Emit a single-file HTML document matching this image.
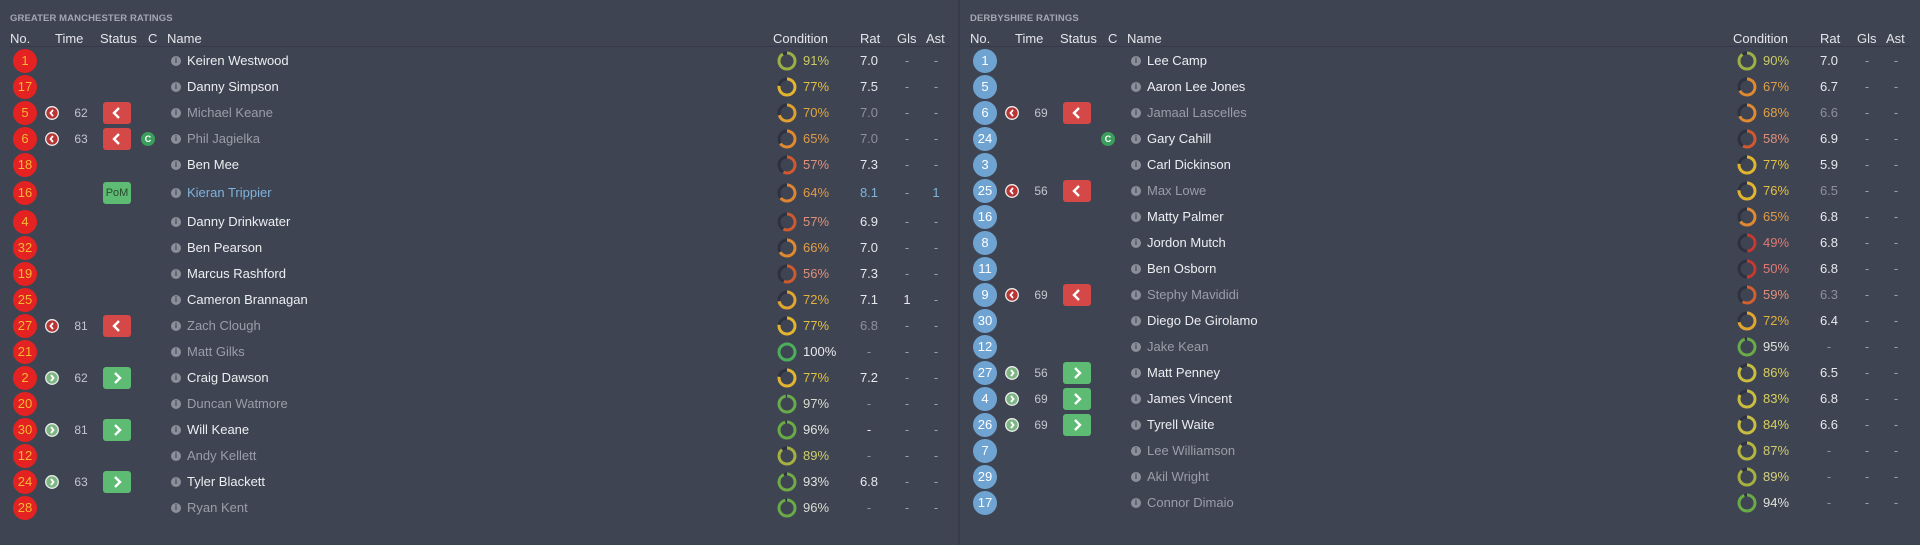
<!DOCTYPE html>
<html><head><meta charset="utf-8"><style>
*{margin:0;padding:0;box-sizing:border-box}
body{width:1920px;height:545px;background:#3f4453;font-family:"Liberation Sans",sans-serif;overflow:hidden;position:relative}
.pn{position:absolute;top:0;width:958px;height:545px}
.div{position:absolute;left:958px;top:0;width:2px;height:545px;background:#383c4a}
.ttl{position:absolute;left:10px;top:13px;font-size:9.5px;font-weight:bold;color:#a3a7b2;letter-spacing:.1px}
.h{position:absolute;top:31px;font-size:13px;color:#e4e6ea}
.hl{position:absolute;left:10px;top:46px;width:940px;height:1px;background:#363a48}
.r{position:absolute;left:0;width:958px;height:26px;font-size:13px;line-height:26px}
.r>*{position:absolute}
.n{left:13px;top:1px;width:24px;height:24px;border-radius:50%;background:#e42222;color:#f6b733;text-align:center;line-height:24px;font-size:13px}
.R .n{background:#6fa4d2;color:#fff}
.ti{left:45px;top:6px}
.tt{left:70px;width:22px;text-align:center;color:#c3c6cd;font-size:12px}
.st{left:103px;top:2px;width:28px;height:22px;border-radius:3px}
.rd{background:#d44848}.gr{background:#5dbb74}
.pom{color:#2a4a30;font-size:11px;text-align:center;line-height:22px}
.c{left:141px;top:6px;width:14px;height:14px;border-radius:50%;background:#3b9f5c;color:#fff;font-size:9px;font-weight:bold;text-align:center;line-height:14px}
.i{left:171px;top:8px;width:10px;height:10px;border-radius:50%;background:#8b8f99;color:#3f4453;font-size:8px;font-weight:bold;text-align:center;line-height:10px}
.nm{left:187px;color:#eceef1}
.d .nm{color:#9a9ea8}
.nm.bl{color:#7fb3db}
.ring{left:776px;top:2px}
.p{left:803px}
.rt{left:855px;width:28px;text-align:center;color:#e8e9ec}
.d .rt{color:#8d919b}
.g{left:897px;width:20px;text-align:center;color:#9a9ea8}
.a{left:926px;width:20px;text-align:center;color:#9a9ea8}
.w{color:#e8e9ec!important}
</style></head><body>
<div class="div"></div>

<div class="pn" style="left:0">
<div class="ttl">GREATER MANCHESTER RATINGS</div>
<div class="h" style="left:10px">No.</div><div class="h" style="left:55px">Time</div><div class="h" style="left:100px">Status</div><div class="h" style="left:148px">C</div><div class="h" style="left:167px">Name</div>
<div class="h" style="left:773px">Condition</div><div class="h" style="left:860px">Rat</div><div class="h" style="left:897px">Gls</div><div class="h" style="left:926px">Ast</div>
<div class="hl"></div>

<div class="r" style="top:48px"><span class="n">1</span><span class="i">i</span><span class="nm">Keiren Westwood</span><svg class="ring" width="22" height="22"><circle cx="11" cy="11" r="8" fill="none" stroke="#2e323e" stroke-width="3"/><circle cx="11" cy="11" r="8" fill="none" stroke="#9bb043" stroke-width="3" stroke-dasharray="45.7 60" transform="rotate(-90 11 11)"/></svg><span class="p" style="color:#cbcb62">91%</span><span class="rt">7.0</span><span class="g">-</span><span class="a">-</span></div>
<div class="r" style="top:74px"><span class="n">17</span><span class="i">i</span><span class="nm">Danny Simpson</span><svg class="ring" width="22" height="22"><circle cx="11" cy="11" r="8" fill="none" stroke="#2e323e" stroke-width="3"/><circle cx="11" cy="11" r="8" fill="none" stroke="#e2b530" stroke-width="3" stroke-dasharray="38.7 60" transform="rotate(-90 11 11)"/></svg><span class="p" style="color:#e2c040">77%</span><span class="rt">7.5</span><span class="g">-</span><span class="a">-</span></div>
<div class="r d" style="top:100px"><span class="n">5</span><svg class="ti" width="14" height="14"><circle cx="7" cy="7" r="6.3" fill="#b83535" stroke="#eee" stroke-width="1.3"/><polyline points="8,4 5.5,7 8,10" fill="none" stroke="#fff" stroke-width="1.8"/></svg><span class="tt">62</span><svg class="st rd" width="28" height="22"><polyline points="16,6 11,11 16,16" fill="none" stroke="#fff" stroke-width="2.4"/></svg><span class="i">i</span><span class="nm">Michael Keane</span><svg class="ring" width="22" height="22"><circle cx="11" cy="11" r="8" fill="none" stroke="#2e323e" stroke-width="3"/><circle cx="11" cy="11" r="8" fill="none" stroke="#e0a030" stroke-width="3" stroke-dasharray="35.2 60" transform="rotate(-90 11 11)"/></svg><span class="p" style="color:#e0a838">70%</span><span class="rt">7.0</span><span class="g">-</span><span class="a">-</span></div>
<div class="r d" style="top:126px"><span class="n">6</span><svg class="ti" width="14" height="14"><circle cx="7" cy="7" r="6.3" fill="#b83535" stroke="#eee" stroke-width="1.3"/><polyline points="8,4 5.5,7 8,10" fill="none" stroke="#fff" stroke-width="1.8"/></svg><span class="tt">63</span><svg class="st rd" width="28" height="22"><polyline points="16,6 11,11 16,16" fill="none" stroke="#fff" stroke-width="2.4"/></svg><span class="c">C</span><span class="i">i</span><span class="nm">Phil Jagielka</span><svg class="ring" width="22" height="22"><circle cx="11" cy="11" r="8" fill="none" stroke="#2e323e" stroke-width="3"/><circle cx="11" cy="11" r="8" fill="none" stroke="#df8a30" stroke-width="3" stroke-dasharray="32.7 60" transform="rotate(-90 11 11)"/></svg><span class="p" style="color:#e09a48">65%</span><span class="rt">7.0</span><span class="g">-</span><span class="a">-</span></div>
<div class="r" style="top:152px"><span class="n">18</span><span class="i">i</span><span class="nm">Ben Mee</span><svg class="ring" width="22" height="22"><circle cx="11" cy="11" r="8" fill="none" stroke="#2e323e" stroke-width="3"/><circle cx="11" cy="11" r="8" fill="none" stroke="#d05a30" stroke-width="3" stroke-dasharray="28.7 60" transform="rotate(-90 11 11)"/></svg><span class="p" style="color:#e0907a">57%</span><span class="rt">7.3</span><span class="g">-</span><span class="a">-</span></div>
<div class="r" style="top:180px"><span class="n">16</span><span class="st gr pom">PoM</span><span class="i">i</span><span class="nm bl">Kieran Trippier</span><svg class="ring" width="22" height="22"><circle cx="11" cy="11" r="8" fill="none" stroke="#2e323e" stroke-width="3"/><circle cx="11" cy="11" r="8" fill="none" stroke="#df8530" stroke-width="3" stroke-dasharray="32.2 60" transform="rotate(-90 11 11)"/></svg><span class="p" style="color:#e09a48">64%</span><span class="rt" style="color:#7fb3db">8.1</span><span class="g">-</span><span class="a" style="color:#7fb3db">1</span></div>
<div class="r" style="top:209px"><span class="n">4</span><span class="i">i</span><span class="nm">Danny Drinkwater</span><svg class="ring" width="22" height="22"><circle cx="11" cy="11" r="8" fill="none" stroke="#2e323e" stroke-width="3"/><circle cx="11" cy="11" r="8" fill="none" stroke="#d05a30" stroke-width="3" stroke-dasharray="28.7 60" transform="rotate(-90 11 11)"/></svg><span class="p" style="color:#e0907a">57%</span><span class="rt">6.9</span><span class="g">-</span><span class="a">-</span></div>
<div class="r" style="top:235px"><span class="n">32</span><span class="i">i</span><span class="nm">Ben Pearson</span><svg class="ring" width="22" height="22"><circle cx="11" cy="11" r="8" fill="none" stroke="#2e323e" stroke-width="3"/><circle cx="11" cy="11" r="8" fill="none" stroke="#df8a30" stroke-width="3" stroke-dasharray="33.2 60" transform="rotate(-90 11 11)"/></svg><span class="p" style="color:#e0a048">66%</span><span class="rt">7.0</span><span class="g">-</span><span class="a">-</span></div>
<div class="r" style="top:261px"><span class="n">19</span><span class="i">i</span><span class="nm">Marcus Rashford</span><svg class="ring" width="22" height="22"><circle cx="11" cy="11" r="8" fill="none" stroke="#2e323e" stroke-width="3"/><circle cx="11" cy="11" r="8" fill="none" stroke="#d05a30" stroke-width="3" stroke-dasharray="28.2 60" transform="rotate(-90 11 11)"/></svg><span class="p" style="color:#e0907a">56%</span><span class="rt">7.3</span><span class="g">-</span><span class="a">-</span></div>
<div class="r" style="top:287px"><span class="n">25</span><span class="i">i</span><span class="nm">Cameron Brannagan</span><svg class="ring" width="22" height="22"><circle cx="11" cy="11" r="8" fill="none" stroke="#2e323e" stroke-width="3"/><circle cx="11" cy="11" r="8" fill="none" stroke="#e0a530" stroke-width="3" stroke-dasharray="36.2 60" transform="rotate(-90 11 11)"/></svg><span class="p" style="color:#e0b040">72%</span><span class="rt">7.1</span><span class="g w">1</span><span class="a">-</span></div>
<div class="r d" style="top:313px"><span class="n">27</span><svg class="ti" width="14" height="14"><circle cx="7" cy="7" r="6.3" fill="#b83535" stroke="#eee" stroke-width="1.3"/><polyline points="8,4 5.5,7 8,10" fill="none" stroke="#fff" stroke-width="1.8"/></svg><span class="tt">81</span><svg class="st rd" width="28" height="22"><polyline points="16,6 11,11 16,16" fill="none" stroke="#fff" stroke-width="2.4"/></svg><span class="i">i</span><span class="nm">Zach Clough</span><svg class="ring" width="22" height="22"><circle cx="11" cy="11" r="8" fill="none" stroke="#2e323e" stroke-width="3"/><circle cx="11" cy="11" r="8" fill="none" stroke="#e2b530" stroke-width="3" stroke-dasharray="38.7 60" transform="rotate(-90 11 11)"/></svg><span class="p" style="color:#e2c040">77%</span><span class="rt">6.8</span><span class="g">-</span><span class="a">-</span></div>
<div class="r d" style="top:339px"><span class="n">21</span><span class="i">i</span><span class="nm">Matt Gilks</span><svg class="ring" width="22" height="22"><circle cx="11" cy="11" r="8" fill="none" stroke="#4caf5a" stroke-width="3"/></svg><span class="p" style="color:#e8e9ec">100%</span><span class="rt">-</span><span class="g">-</span><span class="a">-</span></div>
<div class="r" style="top:365px"><span class="n">2</span><svg class="ti" width="14" height="14"><circle cx="7" cy="7" r="6.3" fill="#7fb485" stroke="#e8efe8" stroke-width="1.3"/><polyline points="6,4 8.5,7 6,10" fill="none" stroke="#fff" stroke-width="1.8"/></svg><span class="tt">62</span><svg class="st gr" width="28" height="22"><polyline points="12,6 17,11 12,16" fill="none" stroke="#fff" stroke-width="2.4"/></svg><span class="i">i</span><span class="nm">Craig Dawson</span><svg class="ring" width="22" height="22"><circle cx="11" cy="11" r="8" fill="none" stroke="#2e323e" stroke-width="3"/><circle cx="11" cy="11" r="8" fill="none" stroke="#e2b530" stroke-width="3" stroke-dasharray="38.7 60" transform="rotate(-90 11 11)"/></svg><span class="p" style="color:#e2c040">77%</span><span class="rt">7.2</span><span class="g">-</span><span class="a">-</span></div>
<div class="r d" style="top:391px"><span class="n">20</span><span class="i">i</span><span class="nm">Duncan Watmore</span><svg class="ring" width="22" height="22"><circle cx="11" cy="11" r="8" fill="none" stroke="#2e323e" stroke-width="3"/><circle cx="11" cy="11" r="8" fill="none" stroke="#68ab4a" stroke-width="3" stroke-dasharray="48.7 60" transform="rotate(-90 11 11)"/></svg><span class="p" style="color:#d8dcd0">97%</span><span class="rt">-</span><span class="g">-</span><span class="a">-</span></div>
<div class="r" style="top:417px"><span class="n">30</span><svg class="ti" width="14" height="14"><circle cx="7" cy="7" r="6.3" fill="#7fb485" stroke="#e8efe8" stroke-width="1.3"/><polyline points="6,4 8.5,7 6,10" fill="none" stroke="#fff" stroke-width="1.8"/></svg><span class="tt">81</span><svg class="st gr" width="28" height="22"><polyline points="12,6 17,11 12,16" fill="none" stroke="#fff" stroke-width="2.4"/></svg><span class="i">i</span><span class="nm">Will Keane</span><svg class="ring" width="22" height="22"><circle cx="11" cy="11" r="8" fill="none" stroke="#2e323e" stroke-width="3"/><circle cx="11" cy="11" r="8" fill="none" stroke="#6aab48" stroke-width="3" stroke-dasharray="48.2 60" transform="rotate(-90 11 11)"/></svg><span class="p" style="color:#e0e3dc">96%</span><span class="rt">-</span><span class="g">-</span><span class="a">-</span></div>
<div class="r d" style="top:443px"><span class="n">12</span><span class="i">i</span><span class="nm">Andy Kellett</span><svg class="ring" width="22" height="22"><circle cx="11" cy="11" r="8" fill="none" stroke="#2e323e" stroke-width="3"/><circle cx="11" cy="11" r="8" fill="none" stroke="#a6b040" stroke-width="3" stroke-dasharray="44.7 60" transform="rotate(-90 11 11)"/></svg><span class="p" style="color:#cfcf6a">89%</span><span class="rt">-</span><span class="g">-</span><span class="a">-</span></div>
<div class="r" style="top:469px"><span class="n">24</span><svg class="ti" width="14" height="14"><circle cx="7" cy="7" r="6.3" fill="#7fb485" stroke="#e8efe8" stroke-width="1.3"/><polyline points="6,4 8.5,7 6,10" fill="none" stroke="#fff" stroke-width="1.8"/></svg><span class="tt">63</span><svg class="st gr" width="28" height="22"><polyline points="12,6 17,11 12,16" fill="none" stroke="#fff" stroke-width="2.4"/></svg><span class="i">i</span><span class="nm">Tyler Blackett</span><svg class="ring" width="22" height="22"><circle cx="11" cy="11" r="8" fill="none" stroke="#2e323e" stroke-width="3"/><circle cx="11" cy="11" r="8" fill="none" stroke="#70ab48" stroke-width="3" stroke-dasharray="46.7 60" transform="rotate(-90 11 11)"/></svg><span class="p" style="color:#e0e3dc">93%</span><span class="rt">6.8</span><span class="g">-</span><span class="a">-</span></div>
<div class="r d" style="top:495px"><span class="n">28</span><span class="i">i</span><span class="nm">Ryan Kent</span><svg class="ring" width="22" height="22"><circle cx="11" cy="11" r="8" fill="none" stroke="#2e323e" stroke-width="3"/><circle cx="11" cy="11" r="8" fill="none" stroke="#6aab48" stroke-width="3" stroke-dasharray="48.2 60" transform="rotate(-90 11 11)"/></svg><span class="p" style="color:#d8dcd0">96%</span><span class="rt">-</span><span class="g">-</span><span class="a">-</span></div>
</div>

<div class="pn R" style="left:960px">
<div class="ttl">DERBYSHIRE RATINGS</div>
<div class="h" style="left:10px">No.</div><div class="h" style="left:55px">Time</div><div class="h" style="left:100px">Status</div><div class="h" style="left:148px">C</div><div class="h" style="left:167px">Name</div>
<div class="h" style="left:773px">Condition</div><div class="h" style="left:860px">Rat</div><div class="h" style="left:897px">Gls</div><div class="h" style="left:926px">Ast</div>
<div class="hl"></div>

<div class="r" style="top:48px"><span class="n">1</span><span class="i">i</span><span class="nm">Lee Camp</span><svg class="ring" width="22" height="22"><circle cx="11" cy="11" r="8" fill="none" stroke="#2e323e" stroke-width="3"/><circle cx="11" cy="11" r="8" fill="none" stroke="#9db043" stroke-width="3" stroke-dasharray="45.2 60" transform="rotate(-90 11 11)"/></svg><span class="p" style="color:#cbcb62">90%</span><span class="rt">7.0</span><span class="g">-</span><span class="a">-</span></div>
<div class="r" style="top:74px"><span class="n">5</span><span class="i">i</span><span class="nm">Aaron Lee Jones</span><svg class="ring" width="22" height="22"><circle cx="11" cy="11" r="8" fill="none" stroke="#2e323e" stroke-width="3"/><circle cx="11" cy="11" r="8" fill="none" stroke="#df8a30" stroke-width="3" stroke-dasharray="33.7 60" transform="rotate(-90 11 11)"/></svg><span class="p" style="color:#e0a048">67%</span><span class="rt">6.7</span><span class="g">-</span><span class="a">-</span></div>
<div class="r d" style="top:100px"><span class="n">6</span><svg class="ti" width="14" height="14"><circle cx="7" cy="7" r="6.3" fill="#b83535" stroke="#eee" stroke-width="1.3"/><polyline points="8,4 5.5,7 8,10" fill="none" stroke="#fff" stroke-width="1.8"/></svg><span class="tt">69</span><svg class="st rd" width="28" height="22"><polyline points="16,6 11,11 16,16" fill="none" stroke="#fff" stroke-width="2.4"/></svg><span class="i">i</span><span class="nm">Jamaal Lascelles</span><svg class="ring" width="22" height="22"><circle cx="11" cy="11" r="8" fill="none" stroke="#2e323e" stroke-width="3"/><circle cx="11" cy="11" r="8" fill="none" stroke="#df8a30" stroke-width="3" stroke-dasharray="34.2 60" transform="rotate(-90 11 11)"/></svg><span class="p" style="color:#e0a048">68%</span><span class="rt">6.6</span><span class="g">-</span><span class="a">-</span></div>
<div class="r" style="top:126px"><span class="n">24</span><span class="c">C</span><span class="i">i</span><span class="nm">Gary Cahill</span><svg class="ring" width="22" height="22"><circle cx="11" cy="11" r="8" fill="none" stroke="#2e323e" stroke-width="3"/><circle cx="11" cy="11" r="8" fill="none" stroke="#d05a30" stroke-width="3" stroke-dasharray="29.2 60" transform="rotate(-90 11 11)"/></svg><span class="p" style="color:#e0907a">58%</span><span class="rt">6.9</span><span class="g">-</span><span class="a">-</span></div>
<div class="r" style="top:152px"><span class="n">3</span><span class="i">i</span><span class="nm">Carl Dickinson</span><svg class="ring" width="22" height="22"><circle cx="11" cy="11" r="8" fill="none" stroke="#2e323e" stroke-width="3"/><circle cx="11" cy="11" r="8" fill="none" stroke="#e2b530" stroke-width="3" stroke-dasharray="38.7 60" transform="rotate(-90 11 11)"/></svg><span class="p" style="color:#e2c040">77%</span><span class="rt">5.9</span><span class="g">-</span><span class="a">-</span></div>
<div class="r d" style="top:178px"><span class="n">25</span><svg class="ti" width="14" height="14"><circle cx="7" cy="7" r="6.3" fill="#b83535" stroke="#eee" stroke-width="1.3"/><polyline points="8,4 5.5,7 8,10" fill="none" stroke="#fff" stroke-width="1.8"/></svg><span class="tt">56</span><svg class="st rd" width="28" height="22"><polyline points="16,6 11,11 16,16" fill="none" stroke="#fff" stroke-width="2.4"/></svg><span class="i">i</span><span class="nm">Max Lowe</span><svg class="ring" width="22" height="22"><circle cx="11" cy="11" r="8" fill="none" stroke="#2e323e" stroke-width="3"/><circle cx="11" cy="11" r="8" fill="none" stroke="#e2b530" stroke-width="3" stroke-dasharray="38.2 60" transform="rotate(-90 11 11)"/></svg><span class="p" style="color:#e2c040">76%</span><span class="rt">6.5</span><span class="g">-</span><span class="a">-</span></div>
<div class="r" style="top:204px"><span class="n">16</span><span class="i">i</span><span class="nm">Matty Palmer</span><svg class="ring" width="22" height="22"><circle cx="11" cy="11" r="8" fill="none" stroke="#2e323e" stroke-width="3"/><circle cx="11" cy="11" r="8" fill="none" stroke="#df8a30" stroke-width="3" stroke-dasharray="32.7 60" transform="rotate(-90 11 11)"/></svg><span class="p" style="color:#e09a48">65%</span><span class="rt">6.8</span><span class="g">-</span><span class="a">-</span></div>
<div class="r" style="top:230px"><span class="n">8</span><span class="i">i</span><span class="nm">Jordon Mutch</span><svg class="ring" width="22" height="22"><circle cx="11" cy="11" r="8" fill="none" stroke="#2e323e" stroke-width="3"/><circle cx="11" cy="11" r="8" fill="none" stroke="#c23a30" stroke-width="3" stroke-dasharray="24.6 60" transform="rotate(-90 11 11)"/></svg><span class="p" style="color:#e07a70">49%</span><span class="rt">6.8</span><span class="g">-</span><span class="a">-</span></div>
<div class="r" style="top:256px"><span class="n">11</span><span class="i">i</span><span class="nm">Ben Osborn</span><svg class="ring" width="22" height="22"><circle cx="11" cy="11" r="8" fill="none" stroke="#2e323e" stroke-width="3"/><circle cx="11" cy="11" r="8" fill="none" stroke="#c23a30" stroke-width="3" stroke-dasharray="25.1 60" transform="rotate(-90 11 11)"/></svg><span class="p" style="color:#e07a70">50%</span><span class="rt">6.8</span><span class="g">-</span><span class="a">-</span></div>
<div class="r d" style="top:282px"><span class="n">9</span><svg class="ti" width="14" height="14"><circle cx="7" cy="7" r="6.3" fill="#b83535" stroke="#eee" stroke-width="1.3"/><polyline points="8,4 5.5,7 8,10" fill="none" stroke="#fff" stroke-width="1.8"/></svg><span class="tt">69</span><svg class="st rd" width="28" height="22"><polyline points="16,6 11,11 16,16" fill="none" stroke="#fff" stroke-width="2.4"/></svg><span class="i">i</span><span class="nm">Stephy Mavididi</span><svg class="ring" width="22" height="22"><circle cx="11" cy="11" r="8" fill="none" stroke="#2e323e" stroke-width="3"/><circle cx="11" cy="11" r="8" fill="none" stroke="#d06030" stroke-width="3" stroke-dasharray="29.7 60" transform="rotate(-90 11 11)"/></svg><span class="p" style="color:#e0907a">59%</span><span class="rt">6.3</span><span class="g">-</span><span class="a">-</span></div>
<div class="r" style="top:308px"><span class="n">30</span><span class="i">i</span><span class="nm">Diego De Girolamo</span><svg class="ring" width="22" height="22"><circle cx="11" cy="11" r="8" fill="none" stroke="#2e323e" stroke-width="3"/><circle cx="11" cy="11" r="8" fill="none" stroke="#e0a530" stroke-width="3" stroke-dasharray="36.2 60" transform="rotate(-90 11 11)"/></svg><span class="p" style="color:#e0b040">72%</span><span class="rt">6.4</span><span class="g">-</span><span class="a">-</span></div>
<div class="r d" style="top:334px"><span class="n">12</span><span class="i">i</span><span class="nm">Jake Kean</span><svg class="ring" width="22" height="22"><circle cx="11" cy="11" r="8" fill="none" stroke="#2e323e" stroke-width="3"/><circle cx="11" cy="11" r="8" fill="none" stroke="#6aab48" stroke-width="3" stroke-dasharray="47.7 60" transform="rotate(-90 11 11)"/></svg><span class="p" style="color:#e0e3dc">95%</span><span class="rt">-</span><span class="g">-</span><span class="a">-</span></div>
<div class="r" style="top:360px"><span class="n">27</span><svg class="ti" width="14" height="14"><circle cx="7" cy="7" r="6.3" fill="#7fb485" stroke="#e8efe8" stroke-width="1.3"/><polyline points="6,4 8.5,7 6,10" fill="none" stroke="#fff" stroke-width="1.8"/></svg><span class="tt">56</span><svg class="st gr" width="28" height="22"><polyline points="12,6 17,11 12,16" fill="none" stroke="#fff" stroke-width="2.4"/></svg><span class="i">i</span><span class="nm">Matt Penney</span><svg class="ring" width="22" height="22"><circle cx="11" cy="11" r="8" fill="none" stroke="#2e323e" stroke-width="3"/><circle cx="11" cy="11" r="8" fill="none" stroke="#c8bd40" stroke-width="3" stroke-dasharray="43.2 60" transform="rotate(-90 11 11)"/></svg><span class="p" style="color:#d8d060">86%</span><span class="rt">6.5</span><span class="g">-</span><span class="a">-</span></div>
<div class="r" style="top:386px"><span class="n">4</span><svg class="ti" width="14" height="14"><circle cx="7" cy="7" r="6.3" fill="#7fb485" stroke="#e8efe8" stroke-width="1.3"/><polyline points="6,4 8.5,7 6,10" fill="none" stroke="#fff" stroke-width="1.8"/></svg><span class="tt">69</span><svg class="st gr" width="28" height="22"><polyline points="12,6 17,11 12,16" fill="none" stroke="#fff" stroke-width="2.4"/></svg><span class="i">i</span><span class="nm">James Vincent</span><svg class="ring" width="22" height="22"><circle cx="11" cy="11" r="8" fill="none" stroke="#2e323e" stroke-width="3"/><circle cx="11" cy="11" r="8" fill="none" stroke="#c8bd40" stroke-width="3" stroke-dasharray="41.7 60" transform="rotate(-90 11 11)"/></svg><span class="p" style="color:#d8d060">83%</span><span class="rt">6.8</span><span class="g">-</span><span class="a">-</span></div>
<div class="r" style="top:412px"><span class="n">26</span><svg class="ti" width="14" height="14"><circle cx="7" cy="7" r="6.3" fill="#7fb485" stroke="#e8efe8" stroke-width="1.3"/><polyline points="6,4 8.5,7 6,10" fill="none" stroke="#fff" stroke-width="1.8"/></svg><span class="tt">69</span><svg class="st gr" width="28" height="22"><polyline points="12,6 17,11 12,16" fill="none" stroke="#fff" stroke-width="2.4"/></svg><span class="i">i</span><span class="nm">Tyrell Waite</span><svg class="ring" width="22" height="22"><circle cx="11" cy="11" r="8" fill="none" stroke="#2e323e" stroke-width="3"/><circle cx="11" cy="11" r="8" fill="none" stroke="#c8bd40" stroke-width="3" stroke-dasharray="42.2 60" transform="rotate(-90 11 11)"/></svg><span class="p" style="color:#d8d060">84%</span><span class="rt">6.6</span><span class="g">-</span><span class="a">-</span></div>
<div class="r d" style="top:438px"><span class="n">7</span><span class="i">i</span><span class="nm">Lee Williamson</span><svg class="ring" width="22" height="22"><circle cx="11" cy="11" r="8" fill="none" stroke="#2e323e" stroke-width="3"/><circle cx="11" cy="11" r="8" fill="none" stroke="#b4b440" stroke-width="3" stroke-dasharray="43.7 60" transform="rotate(-90 11 11)"/></svg><span class="p" style="color:#d0cc70">87%</span><span class="rt">-</span><span class="g">-</span><span class="a">-</span></div>
<div class="r d" style="top:464px"><span class="n">29</span><span class="i">i</span><span class="nm">Akil Wright</span><svg class="ring" width="22" height="22"><circle cx="11" cy="11" r="8" fill="none" stroke="#2e323e" stroke-width="3"/><circle cx="11" cy="11" r="8" fill="none" stroke="#a6b040" stroke-width="3" stroke-dasharray="44.7 60" transform="rotate(-90 11 11)"/></svg><span class="p" style="color:#d4d080">89%</span><span class="rt">-</span><span class="g">-</span><span class="a">-</span></div>
<div class="r d" style="top:490px"><span class="n">17</span><span class="i">i</span><span class="nm">Connor Dimaio</span><svg class="ring" width="22" height="22"><circle cx="11" cy="11" r="8" fill="none" stroke="#2e323e" stroke-width="3"/><circle cx="11" cy="11" r="8" fill="none" stroke="#6aab48" stroke-width="3" stroke-dasharray="47.2 60" transform="rotate(-90 11 11)"/></svg><span class="p" style="color:#e0e3dc">94%</span><span class="rt">-</span><span class="g">-</span><span class="a">-</span></div>
</div>
</body></html>
